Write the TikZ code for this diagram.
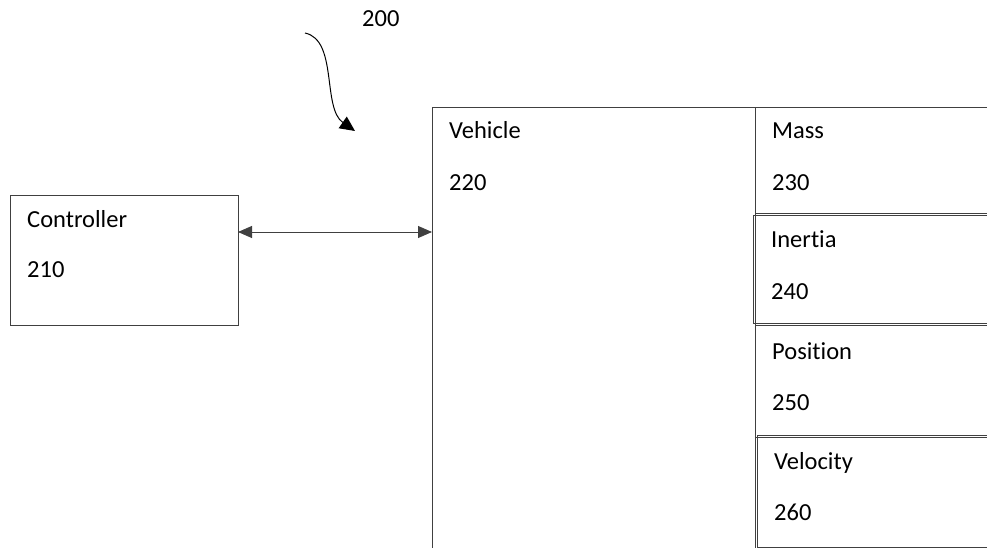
\documentclass[tikz,border=0pt]{standalone}
\usepackage{fontspec}
\setmainfont[Ligatures={NoCommon,NoRequired,NoContextual}]{Carlito}
\usetikzlibrary{arrows.meta}
\begin{document}
\begin{tikzpicture}[x=1pt,y=-1pt,
  box/.style={draw=black!75,line width=0.9pt,anchor=north west,inner sep=0pt},
  lbl/.style={anchor=base west,inner sep=0pt,font=\fontsize{24.5}{24.5}\selectfont},
  conn/.style={draw=black!75,line width=0.9pt,{Triangle[length=14pt,width=12pt]}-{Triangle[length=14pt,width=12pt]}}]
\useasboundingbox (0,0) rectangle (987,548);
% boxes
\node[box,minimum width=228pt,minimum height=130pt] (ctrl) at (10,195) {};
\node[box,minimum width=323pt,minimum height=460pt] (veh) at (432,107) {};
\node[box,minimum width=260pt,minimum height=106pt] (mass) at (755,107) {};
\node[box,minimum width=260pt,minimum height=108pt] (inert) at (753,215) {};
\node[box,minimum width=260pt,minimum height=112pt] (pos) at (755,325) {};
\node[box,minimum width=260pt,minimum height=112pt] (vel) at (757,435) {};
% labels
\node[lbl] (t200) at (362,27) {200};
\node[lbl] (tctrl) at (27,227) {Controller};
\node[lbl] (t210) at (27,277) {210};
\node[lbl] (tveh) at (449,139) {Vehicle};
\node[lbl] (t220) at (449,190) {220};
\node[lbl] (tmass) at (772,139) {Mass};
\node[lbl] (t230) at (772,190) {230};
\node[lbl] (tinert) at (771,247) {Inertia};
\node[lbl] (t240) at (771,299) {240};
\node[lbl] (tpos) at (772,359) {Position};
\node[lbl] (t250) at (772,410) {250};
\node[lbl] (tvel) at (774,469) {Velocity};
\node[lbl] (t260) at (774,520) {260};
% connector
\coordinate (cl) at (238,232);
\coordinate (cr) at (432,232);
\draw[conn] (cl) -- (cr);
% reference arrow
\coordinate (rs) at (305,33);
\coordinate (re) at (355,131);
\draw[line width=1pt,-{Triangle[length=15pt,width=14pt]}] (rs) .. controls (338,40) and (322,108) .. (re);
\end{tikzpicture}
\end{document}
